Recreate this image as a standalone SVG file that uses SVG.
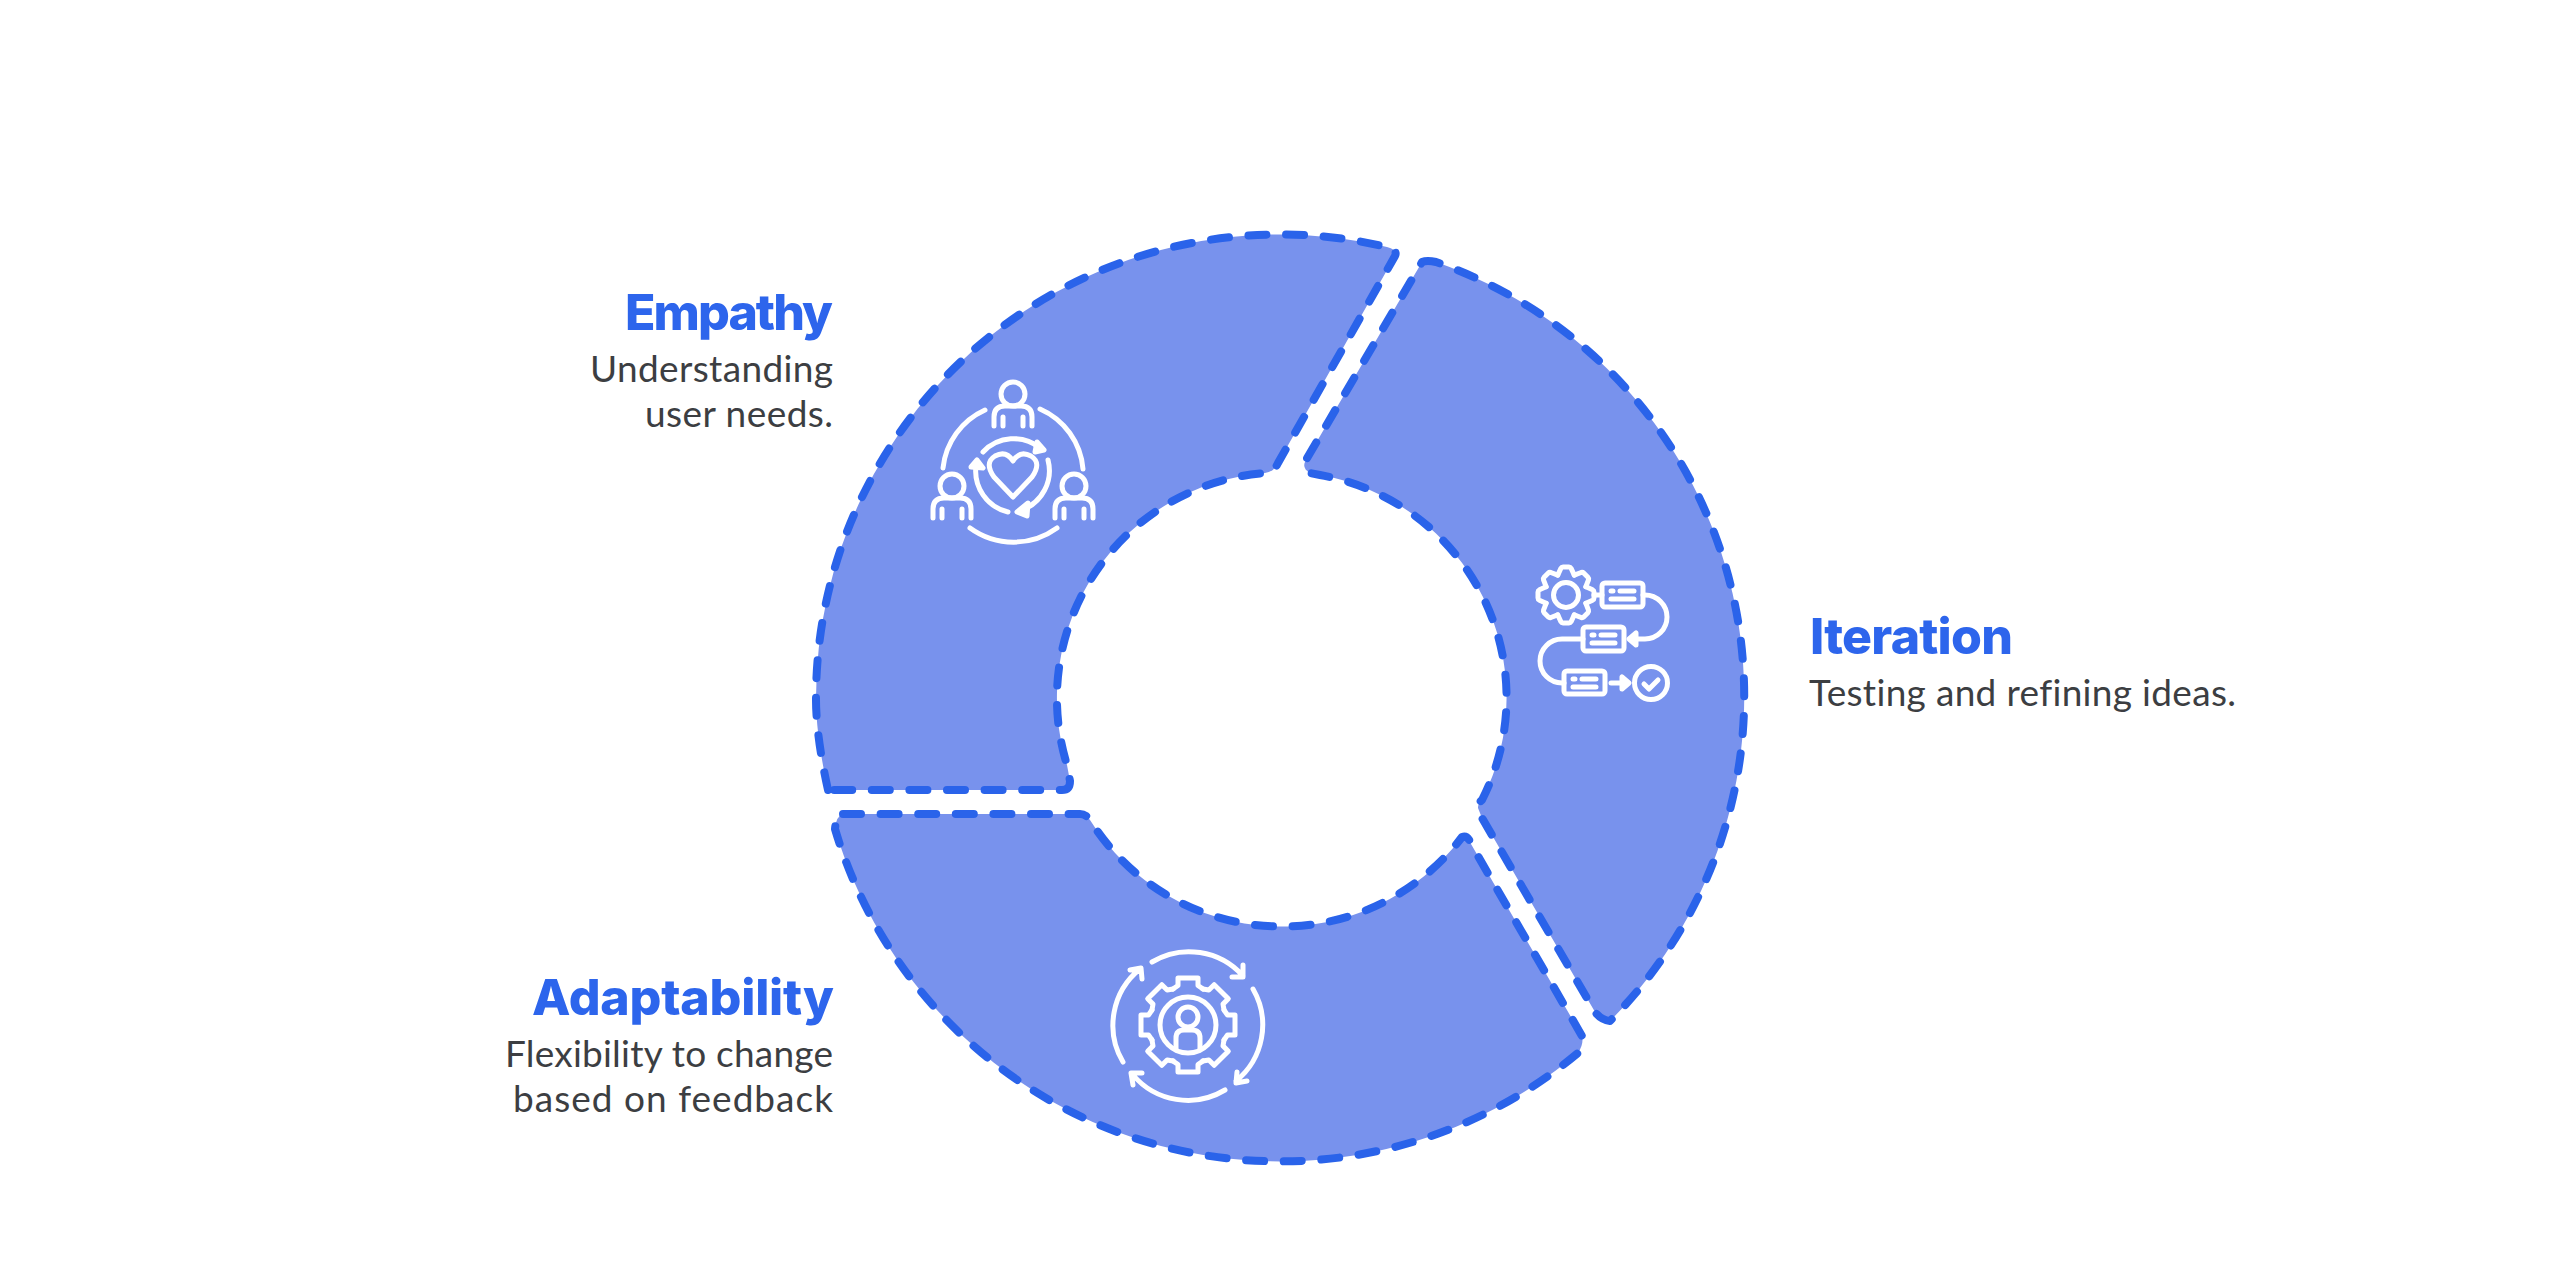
<svg xmlns="http://www.w3.org/2000/svg" xmlns:xlink="http://www.w3.org/1999/xlink" width="2560" height="1268" viewBox="0 0 2560 1268">
<style>
.seg{fill:#7892ED;stroke:#2A63EA;stroke-width:8;stroke-linecap:round;stroke-linejoin:round;stroke-dasharray:18 19.6}
.ic{fill:none;stroke:#fff;stroke-width:5;stroke-linecap:round;stroke-linejoin:round}
.f{fill:#fff}
.h{font-family:"Inter","Liberation Sans",sans-serif;font-weight:800;font-size:50px;fill:#2D65EC;font-variant-ligatures:none}
.b{font-family:"Lato","Liberation Sans",sans-serif;font-size:37px;fill:#3c3e42;font-variant-ligatures:none}
</style>
<defs>
<path id="t1" d="M19.9 -8.2L26.6 -5.2Q28 -4.4 28 -3V3Q28 4.4 26.6 5.2L19.9 8.2"/>
<path id="t2" d="M36 -15L39.5 -10H47V10H39.5L36 15"/>
</defs>
<rect width="2560" height="1268" fill="#fff"/>
<g id="connectors"/>
<g id="empathy">
<path class="seg" d="M828 790 C818 745 816 715 816 700 A464 464 0 0 1 1387 247 Q1398 250 1395 256 L1278 463 Q1274 472 1265 473 A226 226 0 0 0 1067 765 L1070 781 Q1070 790 1062 790 Z"/>
<text class="h" x="625" y="330" textLength="208" lengthAdjust="spacing">Empathy</text>
<text class="b" x="590" y="382" textLength="243" lengthAdjust="spacing">Understanding</text>
<text class="b" x="645" y="427" textLength="188" lengthAdjust="spacing">user needs.</text>
<g class="ic">
<circle cx="1013" cy="394" r="12"/><path d="M994 426V417Q994 406 1005 406H1021Q1032 406 1032 417V426M1003 426V417M1023 426V417"/>
<circle cx="952" cy="486" r="12"/><path d="M933 518V509Q933 498 944 498H960Q971 498 971 509V518M942 518V509M962 518V509"/>
<circle cx="1074" cy="486" r="12"/><path d="M1055 518V509Q1055 498 1066 498H1082Q1093 498 1093 509V518M1064 518V509M1084 518V509"/>
<path d="M943 468A72 72 0 0 1 985 410M1040 409A72 72 0 0 1 1083 469M970 528A74 74 0 0 0 1057 528"/>
<path d="M983 452A42 42 0 0 1 1040 448M1048 460A42 42 0 0 1 1022 510M1008 512A42 42 0 0 1 976 466"/>
<path class="f" d="M1037 442L1044 450L1035 452ZM1028 503L1017 512L1027 516ZM971 467L977 460L983 468Z"/>
<path d="M1013 497L994 477Q984 463 995 456Q1006 450 1013 461Q1020 450 1031 456Q1042 463 1032 477Z"/>
</g>
</g>
<g id="iteration">
<path class="seg" d="M1422 262 Q1427 260 1436 262 A460 460 0 0 1 1610 1021 Q1601 1020 1595 1012 L1482 818 L1478 808 Q1478 803 1482 800 A226 226 0 0 0 1320 475 L1310 473 Q1301 468 1306 460 Z"/>
<text class="h" x="1810" y="654" textLength="203" lengthAdjust="spacing">Iteration</text>
<text class="b" x="1809" y="706" textLength="427" lengthAdjust="spacing">Testing and refining ideas.</text>
<g class="ic">
<g transform="translate(1566 595)">
<use href="#t1"/><use href="#t1" transform="rotate(45)"/><use href="#t1" transform="rotate(90)"/><use href="#t1" transform="rotate(135)"/><use href="#t1" transform="rotate(180)"/><use href="#t1" transform="rotate(225)"/><use href="#t1" transform="rotate(270)"/><use href="#t1" transform="rotate(315)"/>
<circle r="12.5"/>
</g>
<rect x="1602" y="583" width="41" height="24" rx="3"/><path d="M1611 591h2M1620 591h14M1611 599h23"/>
<rect x="1583" y="627" width="41" height="24" rx="3"/><path d="M1592 635h2M1601 635h14M1592 643h23"/>
<rect x="1564" y="671" width="41" height="23" rx="3"/><path d="M1573 679h2M1582 679h14M1573 687h23"/>
<path d="M1594 595H1602M1643 595H1645A22 22 0 0 1 1645 639H1630M1583 639H1562A22 22 0 0 0 1562 683H1564M1611 683H1626"/>
<path class="f" d="M1629 639L1636 633V645ZM1629 683L1622 677V689Z"/>
<circle cx="1651" cy="683" r="16.5"/><path d="M1644 684L1649 689L1658 680"/>
</g>
</g>
<g id="adaptability">
<path class="seg" d="M843 814 H1080 Q1086 814 1090 820 A226 226 0 0 0 1462 837 Q1468 835 1471 844 L1582 1036 Q1584 1044 1578 1053 A464 464 0 0 1 835 829 Q836 816 843 814 Z"/>
<text class="h" x="532" y="1015" textLength="302" lengthAdjust="spacing">Adaptability</text>
<text class="b" x="505" y="1067" textLength="328" lengthAdjust="spacing">Flexibility to change</text>
<text class="b" x="513" y="1112" textLength="320" lengthAdjust="spacing">based on feedback</text>
<g class="ic">
<path d="M1152 962A72 72 0 0 1 1243 976M1243 977L1232 977M1243 977L1243 965M1253 989A72 72 0 0 1 1236 1081M1236 1083L1237 1072M1236 1083L1247 1081M1225 1090A72 72 0 0 1 1133 1075M1131 1073L1142 1073M1131 1073L1133 1085M1123 1062A72 72 0 0 1 1140 969M1141 968L1130 970M1141 968L1142 979"/>
<g transform="translate(1188 1025)">
<use href="#t2"/><use href="#t2" transform="rotate(45)"/><use href="#t2" transform="rotate(90)"/><use href="#t2" transform="rotate(135)"/><use href="#t2" transform="rotate(180)"/><use href="#t2" transform="rotate(225)"/><use href="#t2" transform="rotate(270)"/><use href="#t2" transform="rotate(315)"/>
<circle r="28"/>
</g>
<circle cx="1188" cy="1017" r="10"/>
<path d="M1176 1050V1038Q1176 1030 1184 1030H1192Q1200 1030 1200 1038V1050"/>
</g>
</g>
</svg>
